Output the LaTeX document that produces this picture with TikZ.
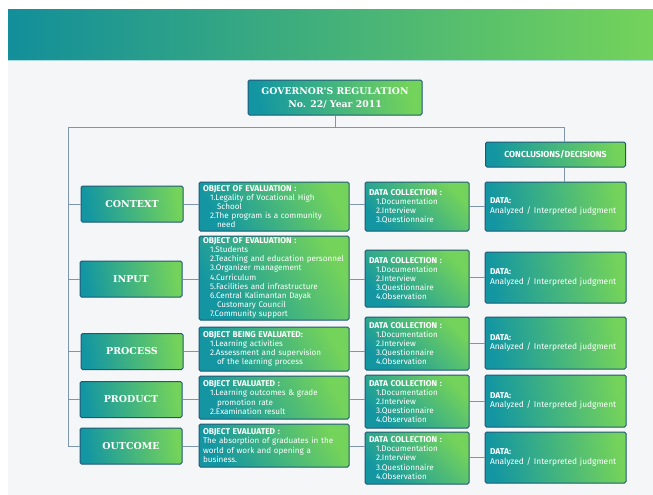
\documentclass[tikz,border=0pt]{standalone}
\usepackage{fontspec}
\setmainfont{Fira Sans}
\newfontfamily\serifhead{DejaVu Serif}
\definecolor{tealc}{HTML}{1396A2}
\definecolor{greenc}{HTML}{74D35A}
\definecolor{edgec}{HTML}{1F5877}
\definecolor{linkc}{HTML}{7E95AE}
\definecolor{bgc}{HTML}{F5F6F8}
\newcommand{\lvl}{\hspace*{7pt}}
\newcommand{\wrp}{\hspace*{14pt}}
\newcommand{\hd}[1]{{\bfseries\fontsize{8.4}{9.2}\selectfont #1}}
\tikzset{
  grad/.style={left color=tealc, right color=greenc, shading angle=#1},
  grad/.default=110,
  box/.style={draw=edgec, line width=1pt, rounded corners=1.5pt, text=white, inner ysep=0pt, inner xsep=4pt},
  catbox/.style={box, grad=100, minimum width=102pt, minimum height=36pt, font=\serifhead\bfseries\fontsize{9.5}{11}\selectfont},
  objbox/.style={box, grad=120, text width=142pt, minimum height=#1, align=left, font=\fontsize{8.1}{9.2}\selectfont},
  colbox/.style={box, grad=135, text width=96pt, minimum height=#1, align=left, font=\fontsize{8.1}{9.2}\selectfont},
  databox/.style={box, grad=100, inner xsep=5pt, text width=131pt, minimum height=#1, align=left, font=\fontsize{8.4}{9.4}\selectfont},
  link/.style={draw=linkc, line width=1pt}
}
\begin{document}
\begin{tikzpicture}[x=1pt,y=-1pt]
\useasboundingbox (0,0) rectangle (653,495);
\fill[white] (0,0) rectangle (653,495);
\fill[bgc] (8,10) rectangle (653,495);
\shade[left color=tealc!95!black, right color=greenc] (8,10) rectangle (653,61);
\draw[tealc!35!white, line width=1pt] (8,61) -- (653,61);

% top of the tree
\node[box, grad=100, minimum width=174pt, minimum height=35pt, align=center,
  font=\serifhead\bfseries\fontsize{9.3}{13}\selectfont] (gov) at (335,97.5)
  {GOVERNOR'S REGULATION\\No. 22/ Year 2011};
\node[box, grad=100, minimum width=140pt, minimum height=25pt,
  font=\bfseries\fontsize{8.7}{10}\selectfont] (concl) at (555.5,154.5) {CONCLUSIONS/DECISIONS};

% stages
\node[catbox] (ccontext) at (132,204) {CONTEXT};
\node[catbox] (cinput) at (131,279) {INPUT};
\node[catbox] (cprocess) at (132,351.5) {PROCESS};
\node[catbox] (cproduct) at (131,399.5) {PRODUCT};
\node[catbox] (coutcome) at (131,446) {OUTCOME};

% objects
\node[objbox=49pt] (ocontext) at (274,206.5) {\hd{OBJECT OF EVALUATION :}\\
  \lvl1.Legality of Vocational High\\\wrp School\\
  \lvl2.The program is a community\\\wrp need};
\node[objbox=84pt] (oinput) at (274,278) {\hd{OBJECT OF EVALUATION :}\\
  \lvl1.Students\\\lvl2.Teaching and education personnel\\\lvl3.Organizer management\\
  \lvl4.Curriculum\\\lvl5.Facilities and infrastructure\\\lvl6.Central Kalimantan Dayak\\
  \wrp Customary Council\\\lvl7.Community support};
\node[objbox=44pt] (oprocess) at (274,349) {\hd{OBJECT BEING EVALUATED:}\\
  \lvl1.Learning activities\\\lvl2.Assessment and supervision\\\wrp of the learning process};
\node[objbox=43pt] (oproduct) at (274,397.5) {\hd{OBJECT EVALUATED :}\\
  \lvl1.Learning outcomes \& grade\\\wrp promotion rate\\\lvl2.Examination result};
\node[objbox=43pt] (ooutcome) at (274,445.5) {\hd{OBJECT EVALUATED :}\\
  The absorption of graduates in the\\world of work and opening a\\business.};

% data collection
\node[colbox=49pt] (dcontext) at (417,206.5) {\hd{DATA COLLECTION :}\\
  \lvl1.Documentation\\\lvl2.Interview\\\lvl3.Questionnaire};
\node[colbox=57pt] (dinput) at (417,278.5) {\hd{DATA COLLECTION :}\\
  \lvl1.Documentation\\\lvl2.Interview\\\lvl3.Questionnaire\\\lvl4.Observation};
\node[colbox=53pt] (dprocess) at (417,343.5) {\hd{DATA COLLECTION :}\\
  \lvl1.Documentation\\\lvl2.Interview\\\lvl3.Questionnaire\\\lvl4.Observation};
\node[colbox=53pt] (dproduct) at (417,401.5) {\hd{DATA COLLECTION :}\\
  \lvl1.Documentation\\\lvl2.Interview\\\lvl3.Questionnaire\\\lvl4.Observation};
\node[colbox=52pt] (doutcome) at (417,458) {\hd{DATA COLLECTION :}\\
  \lvl1.Documentation\\\lvl2.Interview\\\lvl3.Questionnaire\\\lvl4.Observation};

% judgments
\node[databox=49pt] (jcontext) at (555.5,206.5) {\hd{DATA:}\\Analyzed / Interpreted judgment};
\node[databox=51pt] (jinput) at (555.5,277.5) {\hd{DATA:}\\Analyzed / Interpreted judgment};
\node[databox=52pt] (jprocess) at (555.5,343) {\hd{DATA:}\\Analyzed / Interpreted judgment};
\node[databox=52pt] (jproduct) at (555.5,401) {\hd{DATA:}\\Analyzed / Interpreted judgment};
\node[databox=51pt] (joutcome) at (555.5,457.5) {\hd{DATA:}\\Analyzed / Interpreted judgment};

% connectors
\coordinate (trunk) at (68,127);
\coordinate (branch) at (564,127);
\draw[link] (gov.south) -- (gov.south |- trunk);
\draw[link] (trunk) -- (branch) -- (branch |- concl.north);
\draw[link] (trunk) -- (trunk |- coutcome.west);
\draw[link] (branch |- concl.south) -- (branch |- jcontext.north);
\foreach \r in {context,input,process,product,outcome}{
  \draw[link] (trunk |- c\r.west) -- (c\r.west);
  \draw[link] (c\r.east) -- (o\r.west |- c\r.east);
  \draw[link] (o\r.east |- c\r.east) -- (d\r.west |- c\r.east);
  \draw[link] (d\r.east |- j\r.west) -- (j\r.west);
}
\end{tikzpicture}
\end{document}
